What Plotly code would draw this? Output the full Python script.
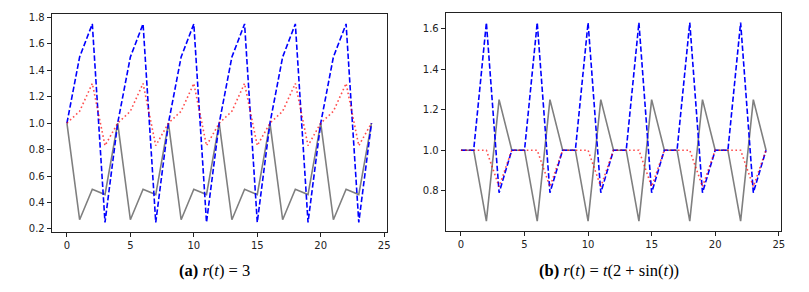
import plotly.graph_objects as go

t = list(range(25))

# Panel (a): r(t) = 3
a_gray = [1.0, 0.27, 0.50, 0.46, 1.0, 0.27, 0.50, 0.46, 1.0, 0.27, 0.50, 0.46,
          1.0, 0.27, 0.50, 0.46, 1.0, 0.27, 0.50, 0.46, 1.0, 0.27, 0.50, 0.46, 1.0]
a_blue = [1.0, 1.50, 1.75, 0.25, 1.0, 1.50, 1.75, 0.25, 1.0, 1.50, 1.75, 0.25,
          1.0, 1.50, 1.75, 0.25, 1.0, 1.50, 1.75, 0.25, 1.0, 1.50, 1.75, 0.25, 1.0]
a_red = [1.0, 1.09, 1.30, 0.83, 1.0, 1.09, 1.30, 0.83, 1.0, 1.09, 1.30, 0.83,
         1.0, 1.09, 1.30, 0.83, 1.0, 1.09, 1.30, 0.83, 1.0, 1.09, 1.30, 0.83, 1.0]

# Panel (b): r(t) = t(2 + sin(t))
b_gray = [1.0, 1.0, 0.65, 1.25, 1.0, 1.0, 0.65, 1.25, 1.0, 1.0, 0.65, 1.25,
          1.0, 1.0, 0.65, 1.25, 1.0, 1.0, 0.65, 1.25, 1.0, 1.0, 0.65, 1.25, 1.0]
b_blue = [1.0, 1.0, 1.63, 0.79, 1.0, 1.0, 1.63, 0.79, 1.0, 1.0, 1.63, 0.79,
          1.0, 1.0, 1.63, 0.79, 1.0, 1.0, 1.63, 0.79, 1.0, 1.0, 1.63, 0.79, 1.0]
b_red = [1.0, 1.0, 1.0, 0.82, 1.0, 1.0, 1.0, 0.82, 1.0, 1.0, 1.0, 0.82,
         1.0, 1.0, 1.0, 0.82, 1.0, 1.0, 1.0, 0.82, 1.0, 1.0, 1.0, 0.82, 1.0]

x_ticks = [0, 5, 10, 15, 20, 25]
a_yticks = [0.2, 0.4, 0.6, 0.8, 1.0, 1.2, 1.4, 1.6, 1.8]
b_yticks = [0.6, 0.8, 1.0, 1.2, 1.4, 1.6]

captions = ["<b>(a)</b> <i>r</i>(<i>t</i>) = 3",
            "<b>(b)</b> <i>r</i>(<i>t</i>) = <i>t</i>(2 + sin(<i>t</i>))"]

GRAY = dict(color="rgba(0,0,0,0.5)", width=1.6)
BLUE = dict(color="rgb(0,0,255)", width=1.6, dash="5.5px,2.4px")
RED = dict(color="rgba(255,0,0,0.7)", width=1.6, dash="1.6px,2.6px")

# page body has an 8px default margin; figure occupies window px 8..801 x 8..284
OFF = 8
W, H = 809 - 2 * OFF, 292 - 2 * OFF


def fx(p):
    return (p - OFF) / W


def fy(p):
    return 1 - (p - OFF) / H


fig = go.Figure()
for xa, ya, g, b, r in [("x", "y", a_gray, a_blue, a_red),
                        ("x2", "y2", b_gray, b_blue, b_red)]:
    fig.add_trace(go.Scatter(x=t, y=g, mode="lines", line=GRAY, xaxis=xa, yaxis=ya, showlegend=False))
    fig.add_trace(go.Scatter(x=t, y=b, mode="lines", line=BLUE, xaxis=xa, yaxis=ya, showlegend=False))
    fig.add_trace(go.Scatter(x=t, y=r, mode="lines", line=RED, xaxis=xa, yaxis=ya, showlegend=False))

axis_common = dict(showline=True, mirror=True, linecolor="#222", linewidth=1,
                   ticks="outside", ticklen=4, tickwidth=1, tickcolor="#222",
                   showgrid=False, zeroline=False, automargin=False,
                   tickfont=dict(family="DejaVu Sans", size=10, color="#222"))

fig.update_layout(
    width=W, height=H,
    margin=dict(l=0, r=0, t=0, b=0, autoexpand=False),
    paper_bgcolor="white", plot_bgcolor="white",
    xaxis=dict(domain=[fx(51.7), fx(386.7)], range=[-1.2, 25.2],
               tickvals=x_ticks, anchor="y", **axis_common),
    yaxis=dict(domain=[fy(232.3), fy(14)], range=[0.175, 1.825],
               tickvals=a_yticks, tickformat=".1f", anchor="x", **axis_common),
    xaxis2=dict(domain=[fx(445.7), fx(781.3)], range=[-1.2, 25.2],
                tickvals=x_ticks, anchor="y2", **axis_common),
    yaxis2=dict(domain=[fy(231), fy(12.7)], range=[0.601, 1.679],
                tickvals=b_yticks, tickformat=".1f", anchor="x2", **axis_common),
    annotations=[
        dict(text=captions[0], x=fx(214), y=fy(270), xref="paper", yref="paper",
             xanchor="center", yanchor="middle", showarrow=False,
             font=dict(family="Liberation Serif", size=16.5, color="black")),
        dict(text=captions[1], x=fx(609), y=fy(270), xref="paper", yref="paper",
             xanchor="center", yanchor="middle", showarrow=False,
             font=dict(family="Liberation Serif", size=16.5, color="black")),
    ],
)

fig.write_html("out.html")
